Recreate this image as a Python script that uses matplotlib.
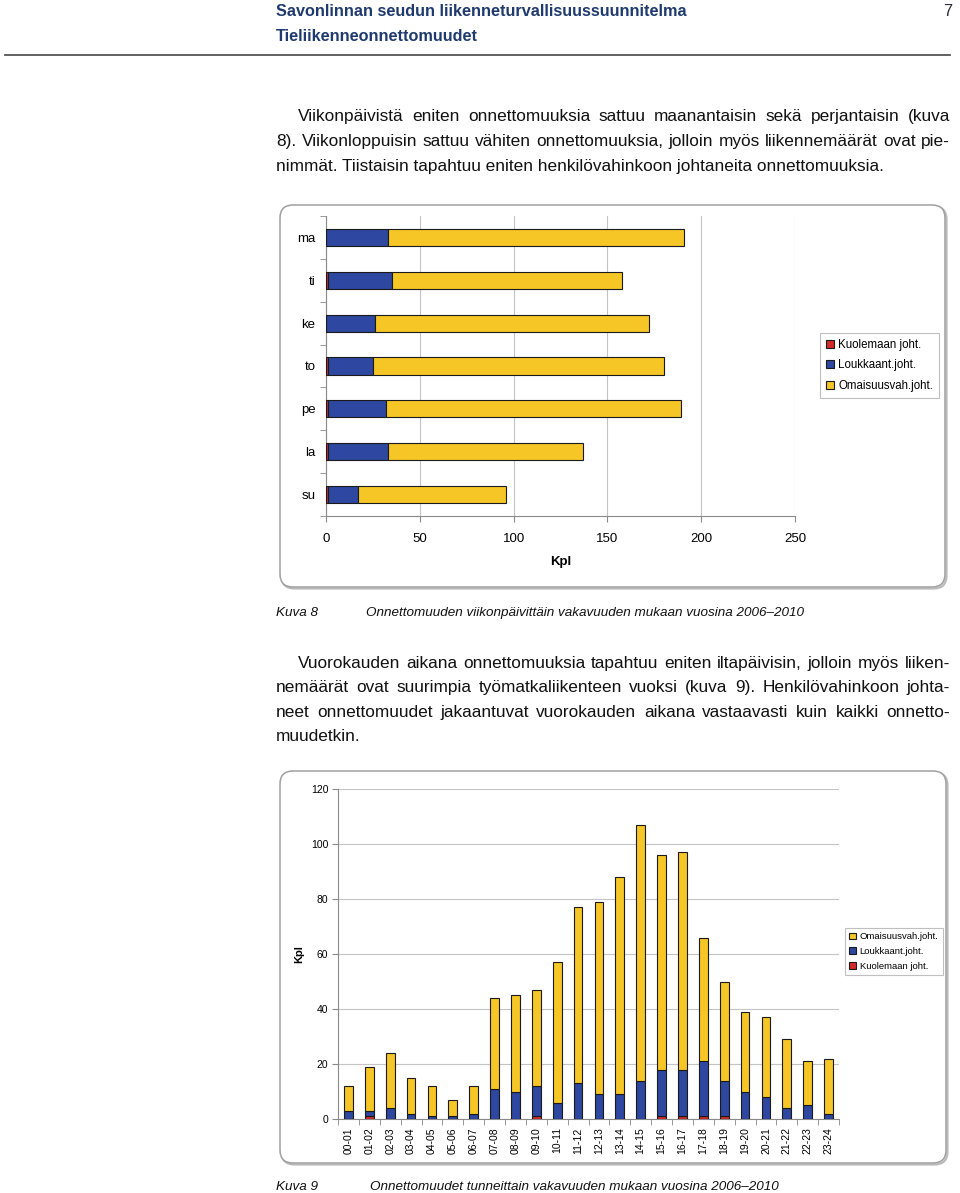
import matplotlib
matplotlib.use('Agg')
import matplotlib.pyplot as plt
from matplotlib.patches import FancyBboxPatch
from matplotlib import font_manager as fm
import numpy as np

# ---------------- data ----------------
days = ['ma', 'ti', 'ke', 'to', 'pe', 'la', 'su']
day_killed = [0, 1, 0, 1, 1, 1, 1]
day_injured = [33, 34, 26, 24, 31, 32, 16]
day_property = [158, 123, 146, 155, 157, 104, 79]

hours = ['00-01', '01-02', '02-03', '03-04', '04-05', '05-06', '06-07', '07-08',
         '08-09', '09-10', '10-11', '11-12', '12-13', '13-14', '14-15', '15-16',
         '16-17', '17-18', '18-19', '19-20', '20-21', '21-22', '22-23', '23-24']
hour_killed = [0, 1, 0, 0, 0, 0, 0, 0, 0, 1, 0, 0, 0, 0, 0, 1, 1, 1, 1, 0, 0, 0, 0, 0]
hour_injured = [3, 2, 4, 2, 1, 1, 2, 11, 10, 11, 6, 13, 9, 9, 14, 17, 17, 20, 13, 10, 8, 4, 5, 2]
hour_property = [9, 16, 20, 13, 11, 6, 10, 33, 35, 35, 51, 64, 70, 79, 93, 78, 79, 45, 36, 29, 29, 25, 16, 20]

lab_killed = 'Kuolemaan joht.'
lab_injured = 'Loukkaant.joht.'
lab_property = 'Omaisuusvah.joht.'

header1 = 'Savonlinnan seudun liikenneturvallisuussuunnitelma'
header2 = 'Tieliikenneonnettomuudet'
page_no = '7'
para1 = ['Viikonpäivistä eniten onnettomuuksia sattuu maanantaisin sekä perjantaisin (kuva',
         '8). Viikonloppuisin sattuu vähiten onnettomuuksia, jolloin myös liikennemäärät ovat pie-',
         'nimmät. Tiistaisin tapahtuu eniten henkilövahinkoon johtaneita onnettomuuksia.']
para2 = ['Vuorokauden aikana onnettomuuksia tapahtuu eniten iltapäivisin, jolloin myös liiken-',
         'nemäärät ovat suurimpia työmatkaliikenteen vuoksi (kuva 9). Henkilövahinkoon johta-',
         'neet onnettomuudet jakaantuvat vuorokauden aikana vastaavasti kuin kaikki onnetto-',
         'muudetkin.']
cap8 = ('Kuva 8', 'Onnettomuuden viikonpäivittäin vakavuuden mukaan vuosina 2006–2010')
cap9 = ('Kuva 9', 'Onnettomuudet tunneittain vakavuuden mukaan vuosina 2006–2010')

# ---------------- style ----------------
RED = '#D42A2A'
BLUE = '#2E47A0'
YEL = '#F5C626'
EDGE = '#1a1a1a'
NAVY = '#1F3A6E'
GRID = '#C4C4C4'
SPINE = '#8A8A8A'

names = {f.name for f in fm.fontManager.ttflist}
SANS = 'Liberation Sans' if 'Liberation Sans' in names else 'DejaVu Sans'
plt.rcParams['font.family'] = [SANS, 'DejaVu Sans']

W, H = 960, 1193
fig = plt.figure(figsize=(W / 100, H / 100), dpi=100)
fig.patch.set_facecolor('white')
bg = fig.add_axes([0, 0, 1, 1], zorder=0)
bg.set_xlim(0, W)
bg.set_ylim(H, 0)
bg.axis('off')
renderer = fig.canvas.get_renderer()


def text_width(s, **kw):
    t = bg.text(0, 0, s, **kw)
    w = t.get_window_extent(renderer).width
    t.remove()
    return w


def fit_size(s, target, **kw):
    w = text_width(s, fontsize=10, **kw)
    return 10 * target / w


def rect(x0, y0, x1, y1):
    return [x0 / W, 1 - y1 / H, (x1 - x0) / W, (y1 - y0) / H]


def justify(line, x0, x1, y, **kw):
    words = line.split(' ')
    widths = [text_width(w, **kw) for w in words]
    gap = (x1 - x0 - sum(widths)) / (len(words) - 1)
    x = x0
    for w, wd in zip(words, widths):
        bg.text(x, y, w, ha='left', va='baseline', **kw)
        x += wd + gap


# ---------------- header ----------------
hfs = fit_size(header1, 412, family=SANS, fontweight='bold')
bg.text(276, 16, header1, fontsize=hfs, fontweight='bold', color=NAVY, va='baseline', family=SANS)
bg.text(276, 41, header2, fontsize=hfs, fontweight='bold', color=NAVY, va='baseline', family=SANS)
bg.text(952, 16, page_no, fontsize=hfs, color='#2a2a3a', ha='right', va='baseline', family=SANS)
bg.plot([5, 950], [55, 55], color='#555555', lw=1.3)

# ---------------- body text ----------------
bfs = fit_size(para1[2], 606, family=SANS)
body_kw = dict(fontsize=bfs, family=SANS, color='#111111')
for i, line in enumerate(para1):
    y = 121 + i * 25
    x0 = 298 if i == 0 else 276
    if i < len(para1) - 1:
        justify(line, x0, 950, y, **body_kw)
    else:
        bg.text(x0, y, line, ha='left', va='baseline', **body_kw)
for i, line in enumerate(para2):
    y = 668 + i * 24.3
    x0 = 298 if i == 0 else 276
    if i < len(para2) - 1:
        justify(line, x0, 950, y, **body_kw)
    else:
        bg.text(x0, y, line, ha='left', va='baseline', **body_kw)

cfs = fit_size(cap8[1], 439, family=SANS, style='italic')
for (k, d), y, xd in ((cap8, 616, 366), (cap9, 1190, 370)):
    bg.text(276, y, k, fontsize=cfs, style='italic', family=SANS, va='baseline', color='#111111')
    bg.text(xd, y, d, fontsize=cfs, style='italic', family=SANS, va='baseline', color='#111111')

# ---------------- frames ----------------
for (x0, y0, x1, y1) in ((280, 205, 945, 587), (280, 771, 946, 1163)):
    sh = FancyBboxPatch((x0 + 1.5, y0 + 1.5), x1 - x0, y1 - y0,
                        boxstyle='round,pad=0,rounding_size=13',
                        fc='none', ec='#BBBBBB', lw=1.6, zorder=1)
    bg.add_patch(sh)
    fr = FancyBboxPatch((x0, y0), x1 - x0, y1 - y0,
                        boxstyle='round,pad=0,rounding_size=13',
                        fc='white', ec='#A0A0A0', lw=1.1, zorder=2)
    bg.add_patch(fr)

# ---------------- chart 1 (horizontal stacked bars) ----------------
ax1 = fig.add_axes(rect(326, 216, 795, 516), zorder=3)
ax1.set_facecolor('none')
yy = np.arange(len(days))
k = np.array(day_killed)
inj = np.array(day_injured)
pr = np.array(day_property)
bh = 0.4
ax1.barh(yy, k, height=bh, color=RED, edgecolor=EDGE, lw=0.8, label=lab_killed, zorder=3)
ax1.barh(yy, inj, left=k, height=bh, color=BLUE, edgecolor=EDGE, lw=0.8, label=lab_injured, zorder=3)
ax1.barh(yy, pr, left=k + inj, height=bh, color=YEL, edgecolor=EDGE, lw=0.8, label=lab_property, zorder=3)
ax1.set_ylim(len(days) - 0.5, -0.5)
ax1.set_xlim(0, 250)
ax1.set_xticks(np.arange(0, 251, 50))
ax1.set_yticks(yy)
ax1.set_yticklabels(days)
ax1.set_yticks(np.arange(-0.5, len(days), 1), minor=True)
ax1.tick_params(axis='y', which='major', length=0, pad=7.5, labelsize=9.5)
ax1.tick_params(axis='y', which='minor', length=4, direction='out', color=SPINE)
ax1.tick_params(axis='x', which='major', length=4, direction='out', color=SPINE, pad=8, labelsize=9.5)
ax1.grid(axis='x', color=GRID, lw=0.8, zorder=0)
ax1.set_axisbelow(True)
for s in ('top', 'right'):
    ax1.spines[s].set_visible(False)
for s in ('left', 'bottom'):
    ax1.spines[s].set_color(SPINE)
ax1.set_xlabel('Kpl', fontweight='bold', fontsize=9.5, labelpad=8)
h1, l1 = ax1.get_legend_handles_labels()
leg1 = fig.legend(h1, l1, loc='upper left', bbox_to_anchor=(820 / W, 1 - 333 / H),
                  fontsize=8.3, frameon=True, fancybox=False, edgecolor='#B0B0B0',
                  handlelength=0.7, handleheight=0.7, handletextpad=0.4,
                  labelspacing=0.75, borderpad=0.5, borderaxespad=0)
leg1.get_frame().set_linewidth(0.8)
leg1.set_zorder(5)

# ---------------- chart 2 (vertical stacked bars) ----------------
ax2 = fig.add_axes(rect(338, 789, 839, 1119), zorder=3)
ax2.set_facecolor('none')
xx = np.arange(len(hours))
hk = np.array(hour_killed)
hi = np.array(hour_injured)
hp = np.array(hour_property)
bw = 0.42
ax2.bar(xx, hk, width=bw, color=RED, edgecolor=EDGE, lw=0.8, label=lab_killed, zorder=3)
ax2.bar(xx, hi, bottom=hk, width=bw, color=BLUE, edgecolor=EDGE, lw=0.8, label=lab_injured, zorder=3)
ax2.bar(xx, hp, bottom=hk + hi, width=bw, color=YEL, edgecolor=EDGE, lw=0.8, label=lab_property, zorder=3)
ax2.set_xlim(-0.5, len(hours) - 0.5)
ax2.set_ylim(0, 120)
ax2.set_yticks(np.arange(0, 121, 20))
ax2.set_xticks(xx)
ax2.set_xticklabels(hours, rotation=90)
ax2.set_xticks(np.arange(-0.5, len(hours), 1), minor=True)
ax2.tick_params(axis='x', which='major', length=0, pad=6, labelsize=7.5)
ax2.tick_params(axis='x', which='minor', length=4, direction='out', color=SPINE)
ax2.tick_params(axis='y', which='major', length=4, direction='out', color=SPINE, pad=3, labelsize=7.5)
ax2.grid(axis='y', color=GRID, lw=0.8, zorder=0)
ax2.set_axisbelow(True)
for s in ('top', 'right'):
    ax2.spines[s].set_visible(False)
for s in ('left', 'bottom'):
    ax2.spines[s].set_color(SPINE)
ax2.set_ylabel('Kpl', fontweight='bold', fontsize=8, labelpad=5)
h2, l2 = ax2.get_legend_handles_labels()
leg2 = fig.legend(h2[::-1], l2[::-1], loc='upper left', bbox_to_anchor=(845 / W, 1 - 928 / H),
                  fontsize=6.8, frameon=True, fancybox=False, edgecolor='#B0B0B0',
                  handlelength=0.7, handleheight=0.7, handletextpad=0.4,
                  labelspacing=0.6, borderpad=0.45, borderaxespad=0)
leg2.get_frame().set_linewidth(0.8)
leg2.set_zorder(5)

fig.savefig('out.png', dpi=100, facecolor='white')
